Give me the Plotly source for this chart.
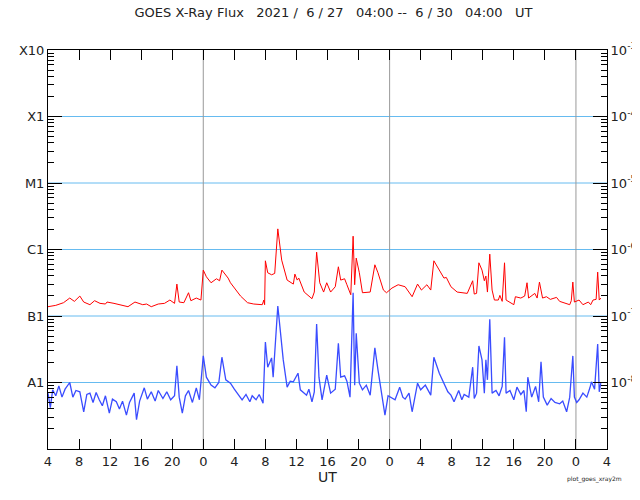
import numpy as np
import pandas as pd
import plotly.graph_objects as go

start = pd.Timestamp("2021-06-27 04:00")

long_hours = [0,1,2,2.8,3.4,4.1,4.6,5.4,6.0,6.7,7.4,7.6,8.5,9.4,10.3,11.2,12.2,12.7,13.3,14.2,15.0,15.7,16.3,16.6,16.9,17.5,18.1,18.4,19.1,19.7,20.0,20.4,21.0,21.7,22.1,22.4,23.2,23.5,24.8,25.7,26.5,27.6,27.8,27.9,28.0,28.3,28.8,29.2,29.6,30.1,30.8,31.6,31.8,32.1,32.3,33.0,34.0,34.3,34.6,35.0,35.5,35.9,36.4,37.0,37.4,37.7,38.2,38.5,39.0,39.3,39.5,39.7,40.1,40.5,41.1,41.5,42.1,42.5,43.2,43.6,44.3,45.1,46.0,46.9,47.6,48.1,48.8,49.3,49.7,50.4,51.0,51.3,51.9,52.7,53.4,54.0,54.7,54.9,55.2,55.5,55.9,56.2,56.4,56.6,56.9,57.2,57.5,58.0,58.2,58.5,58.8,59.0,60.0,60.2,60.9,61.4,61.7,61.9,62.7,63.0,63.3,63.7,64.2,64.7,65.5,65.9,67.2,67.4,67.6,67.8,68.4,68.9,69.6,69.9,70.2,70.6,70.8,71.0,71.2]
long_log10 = [-6.86,-6.84,-6.80,-6.73,-6.78,-6.70,-6.79,-6.83,-6.77,-6.81,-6.82,-6.79,-6.81,-6.83,-6.86,-6.79,-6.83,-6.82,-6.86,-6.82,-6.81,-6.76,-6.81,-6.52,-6.79,-6.80,-6.65,-6.77,-6.73,-6.76,-6.31,-6.41,-6.50,-6.44,-6.47,-6.31,-6.43,-6.50,-6.70,-6.80,-6.82,-6.83,-6.76,-6.83,-6.17,-6.35,-6.38,-6.36,-5.69,-6.16,-6.46,-6.52,-6.37,-6.46,-6.43,-6.64,-6.74,-6.64,-6.04,-6.50,-6.64,-6.50,-6.64,-6.56,-6.26,-6.46,-6.44,-6.53,-6.68,-5.80,-6.53,-6.13,-6.35,-6.65,-6.65,-6.64,-6.23,-6.35,-6.61,-6.65,-6.58,-6.53,-6.56,-6.71,-6.52,-6.61,-6.53,-6.61,-6.17,-6.31,-6.43,-6.42,-6.56,-6.64,-6.65,-6.66,-6.47,-6.67,-6.66,-6.20,-6.31,-6.47,-6.40,-6.64,-6.07,-6.61,-6.76,-6.76,-6.69,-6.78,-6.20,-6.76,-6.83,-6.71,-6.73,-6.70,-6.50,-6.73,-6.66,-6.73,-6.49,-6.73,-6.71,-6.75,-6.72,-6.78,-6.83,-6.77,-6.49,-6.79,-6.76,-6.83,-6.79,-6.83,-6.76,-6.75,-6.34,-6.76,-6.73]

short_hours = [0,0.3,0.6,1.0,1.4,1.8,2.2,2.8,3.2,3.6,4.1,4.6,5.0,5.4,5.8,6.2,6.6,7.0,7.4,7.9,8.3,8.8,9.2,9.6,10.1,10.5,11.1,11.4,11.8,12.4,12.8,13.3,13.8,14.2,14.8,15.3,15.8,16.3,16.6,16.9,17.3,17.7,18.1,18.6,19.1,19.5,20.0,20.4,21.0,21.5,22.0,22.4,22.9,23.5,24.0,24.4,25.0,25.5,26.0,26.3,26.8,27.2,27.7,28.0,28.3,28.8,29.0,29.6,30.3,30.8,31.2,31.6,32.2,32.5,33.3,33.6,34.0,34.3,34.6,34.9,35.3,35.9,36.4,37.0,37.4,37.7,38.2,38.5,38.9,39.3,39.5,39.7,40.1,40.5,41.0,41.5,42.1,42.5,43.0,43.4,43.8,44.1,44.7,45.3,45.7,46.0,46.5,46.9,47.3,47.6,48.0,48.6,49.3,49.7,50.4,51.0,51.5,51.9,52.3,52.9,53.3,53.6,54.2,54.7,54.9,55.2,55.5,55.9,56.2,56.4,56.6,56.9,57.2,57.7,58.1,58.5,58.8,59.0,59.5,60.0,60.4,60.9,61.3,61.6,61.8,62.3,62.8,63.2,63.5,63.8,64.3,64.8,65.3,65.9,66.3,66.8,67.2,67.6,67.8,68.1,68.4,68.9,69.4,69.8,70.0,70.4,70.8,71.0,71.2]
short_log10 = [-8.16,-8.38,-8.11,-8.20,-8.05,-8.22,-8.10,-8.00,-8.22,-8.12,-8.14,-8.44,-8.18,-8.16,-8.30,-8.15,-8.26,-8.35,-8.20,-8.46,-8.25,-8.29,-8.40,-8.28,-8.49,-8.30,-8.16,-8.56,-8.28,-8.08,-8.25,-8.14,-8.28,-8.12,-8.24,-8.14,-8.26,-8.20,-7.75,-8.22,-8.46,-8.20,-8.12,-8.30,-8.08,-8.26,-7.60,-7.92,-8.04,-8.08,-8.00,-7.62,-7.96,-8.01,-8.10,-8.16,-8.26,-8.18,-8.29,-8.20,-8.26,-8.18,-8.31,-7.39,-7.77,-7.63,-7.92,-6.85,-7.66,-8.07,-7.98,-7.99,-7.86,-8.11,-8.19,-8.10,-8.29,-8.14,-7.12,-7.92,-8.26,-7.89,-8.16,-8.10,-7.41,-7.92,-7.90,-7.98,-8.22,-6.65,-8.04,-7.26,-8.01,-8.11,-8.04,-8.19,-7.48,-7.81,-8.18,-8.49,-8.20,-8.22,-8.26,-8.07,-8.22,-8.25,-8.16,-8.44,-8.18,-8.01,-8.11,-8.04,-8.19,-7.62,-7.86,-8.01,-8.14,-8.19,-8.29,-8.12,-8.26,-8.18,-8.22,-7.77,-8.24,-8.16,-7.45,-7.66,-8.16,-7.66,-7.96,-7.05,-8.16,-8.12,-8.20,-8.06,-7.32,-8.16,-8.12,-8.26,-8.07,-8.18,-8.12,-8.44,-7.92,-8.22,-8.06,-8.29,-7.69,-8.22,-8.34,-8.24,-8.30,-8.32,-8.28,-8.44,-8.22,-7.60,-8.22,-8.30,-8.26,-8.16,-8.22,-8.08,-7.99,-8.10,-7.42,-8.14,-8.01]

class_labels = ["X10", "X1", "M1", "C1", "B1", "A1"]
decades = [-3, -4, -5, -6, -7, -8]

def times(h):
    return [start + pd.Timedelta(hours=v) for v in h]

fig = go.Figure()
fig.add_trace(go.Scatter(x=times(long_hours), y=[10**v for v in long_log10], mode="lines",
                         line=dict(color="#ff0000", width=1), showlegend=False))
fig.add_trace(go.Scatter(x=times(short_hours), y=[10**v for v in short_log10], mode="lines",
                         line=dict(color="#3a4cff", width=1.3), showlegend=False))
fig.add_trace(go.Scatter(x=[start], y=[1e-6], yaxis="y2", mode="markers",
                         marker=dict(opacity=0), showlegend=False, hoverinfo="skip"))

end = start + pd.Timedelta(hours=72)
for d in decades[1:]:
    fig.add_shape(type="line", xref="paper", x0=0, x1=1, yref="y", y0=10**d, y1=10**d,
                  line=dict(color="#66bbf0", width=1), layer="below")
for day in ["2021-06-28", "2021-06-29", "2021-06-30"]:
    fig.add_shape(type="line", x0=pd.Timestamp(day), x1=pd.Timestamp(day), yref="paper", y0=0, y1=1,
                  line=dict(color="#999999", width=1), layer="below")

minor_vals = [k * 10.0**e for e in range(-9, -3) for k in range(2, 10)]
tickvals_x = [start + pd.Timedelta(hours=4*i) for i in range(19)]
ticktext_x = [str(t.hour) for t in tickvals_x]

yax = dict(type="log", range=[-9, -3], tickvals=[10**d for d in decades], showgrid=False,
           ticks="inside", ticklen=14, tickcolor="black", showline=True, linecolor="black",
           minor=dict(tickvals=minor_vals, ticks="inside", ticklen=6, tickcolor="black"),
           zeroline=False, automargin=False, tickfont=dict(size=13, color="#222222"))
fig.update_layout(
    width=632, height=492, plot_bgcolor="white", paper_bgcolor="white",
    margin=dict(l=40, r=33, t=42, b=51, autoexpand=False),
    font=dict(family="DejaVu Sans", size=13, color="#222222"),
    title=dict(text="GOES X-Ray Flux   2021 /  6 / 27   04:00 --  6 / 30   04:00   UT",
               x=0.515, xanchor="center", y=1.0, yanchor="top", pad=dict(t=0),
               font=dict(size=13)),
    xaxis=dict(range=[start, end], tickvals=tickvals_x, ticktext=ticktext_x, ticks="inside",
               ticklen=10, tickcolor="black", showline=True, linecolor="black", mirror="ticks",
               showgrid=False, zeroline=False, automargin=False,
               title=dict(text="UT", standoff=2, font=dict(size=14)),
               tickfont=dict(size=13)),
    yaxis=dict(**yax, ticktext=class_labels),
    yaxis2=dict(**yax, overlaying="y", side="right",
                ticktext=[f"10<sup>{d}</sup>" for d in decades]),
)
fig.add_annotation(text="plot_goes_xray2m", xref="paper", yref="paper", x=0.977, y=-0.09,
                   xanchor="center", showarrow=False, font=dict(size=6))
fig.write_html("out.html")
